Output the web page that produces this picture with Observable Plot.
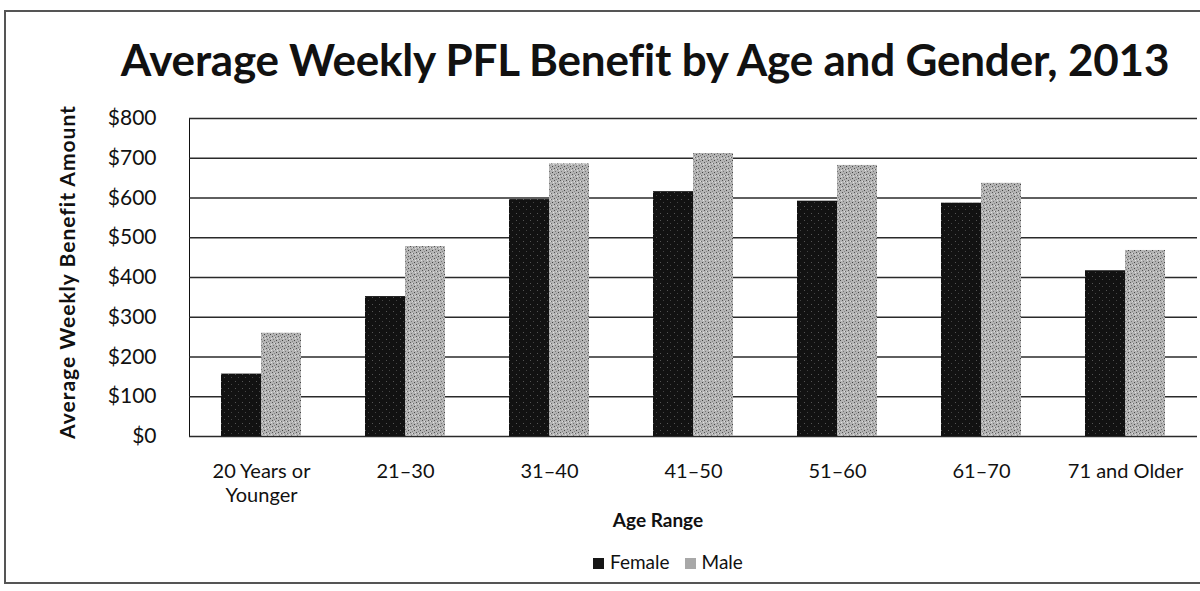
<!DOCTYPE html>
<html>
<head>
<meta charset="utf-8">
<script src="https://cdn.jsdelivr.net/npm/d3@7"></script>
<script src="https://cdn.jsdelivr.net/npm/@observablehq/plot@0.6"></script>
<style>
  html, body { margin: 0; padding: 0; background: #fff; }
  #wrap { position: relative; width: 1200px; height: 591px; overflow: hidden; font-family: Lato, "Open Sans", sans-serif; color: #111; }
  #frame { position: absolute; left: 4px; top: 10px; width: 1200px; height: 574px; border-left: 2px solid #555; border-top: 2px solid #555; border-bottom: 2px solid #555; box-sizing: border-box; }
  #title { position: absolute; left: 0; width: 1290px; top: 33px; text-align: center; font-weight: bold; font-size: 44px; letter-spacing: -0.2px; }
  #ytitle { position: absolute; left: 66px; top: 272px; transform: translate(-50%, -50%) rotate(-90deg); white-space: nowrap; font-weight: bold; font-size: 21px; letter-spacing: 1px; }
  #xtitle { position: absolute; left: 658px; top: 508px; transform: translateX(-50%); font-weight: bold; font-size: 19px; }
  #legend { position: absolute; left: 593px; top: 550px; font-size: 19px; white-space: nowrap; }
  #legend span.sw { display: inline-block; width: 11px; height: 11px; margin-right: 6px; vertical-align: 0px; }
  #chart { position: absolute; left: 0; top: 0; }
</style>
</head>
<body>
<svg width="0" height="0" style="position:absolute">
  <defs>
    <pattern id="maleTex" width="6" height="6" patternUnits="userSpaceOnUse">
      <rect width="6" height="6" fill="#b4b4b4"/>
      <rect x="0" y="0" width="1" height="1" fill="#555"/>
      <rect x="3" y="1" width="1" height="1" fill="#666"/>
      <rect x="1" y="3" width="1" height="1" fill="#777"/>
      <rect x="4" y="4" width="1" height="1" fill="#444"/>
      <rect x="5" y="2" width="1" height="1" fill="#e0e0e0"/>
      <rect x="2" y="5" width="1" height="1" fill="#888"/>
      <rect x="2" y="1" width="1" height="1" fill="#ddd"/>
    </pattern>
    <pattern id="femaleTex" width="7" height="7" patternUnits="userSpaceOnUse">
      <rect width="7" height="7" fill="#121212"/>
      <rect x="2" y="3" width="1" height="1" fill="#555"/>
      <rect x="5" y="6" width="1" height="1" fill="#444"/>
    </pattern>
  </defs>
</svg>
<div id="wrap">
  <div id="frame"></div>
  <div id="chart"></div>
  <div id="title">Average Weekly PFL Benefit by Age and Gender, 2013</div>
  <div id="ytitle">Average Weekly Benefit Amount</div>
  <div id="xtitle">Age Range</div>
  <div id="legend"></div>
</div>
<script>
const ages = ["20 Years or\nYounger", "21–30", "31–40", "41–50", "51–60", "61–70", "71 and Older"];
const genders = ["Female", "Male"];
const female = [157, 352, 596, 616, 592, 587, 417];
const male = [260, 478, 686, 712, 682, 637, 468];
const yTicks = [0, 100, 200, 300, 400, 500, 600, 700, 800];
const fills = ["url(#femaleTex)", "url(#maleTex)"];
const swatch = ["#161616", "#a8a8a8"];

const data = [];
ages.forEach((a, i) => {
  data.push({age: a, gender: "Female", value: female[i]});
  data.push({age: a, gender: "Male", value: male[i]});
});

const chart = Plot.plot({
  width: 1200,
  height: 591,
  marginTop: 118,
  marginBottom: 155,
  marginLeft: 187,
  marginRight: 2,
  style: {fontFamily: "Lato, 'Open Sans', sans-serif", fontSize: "21px", color: "#111", background: "transparent"},
  fx: {domain: ages, padding: 0, label: null, axis: null},
  x: {domain: genders, axis: null, paddingInner: 0, paddingOuter: 0.8},
  y: {domain: [0, 800], ticks: yTicks, tickFormat: d => "$" + d, label: null, tickSize: 0, tickPadding: 33, line: true},
  color: {domain: genders, range: fills},
  marks: [
    Plot.ruleY(yTicks, {stroke: "#2a2a2a", strokeWidth: 1.6}),
    Plot.barY(data, {fx: "age", x: "gender", y: "value", fill: "gender"}),
    Plot.text(ages, {fx: d => d, text: d => d, frameAnchor: "bottom", dy: 24, lineAnchor: "top", lineHeight: 1.2, fontSize: 20, fill: "#111"})
  ]
});
document.getElementById("chart").appendChild(chart);

const lg = document.getElementById("legend");
lg.innerHTML = genders.map((g, i) =>
  `<span class="sw" style="background:${swatch[i]}"></span><span style="margin-right:15px">${g}</span>`).join("");
</script>
</body>
</html>
